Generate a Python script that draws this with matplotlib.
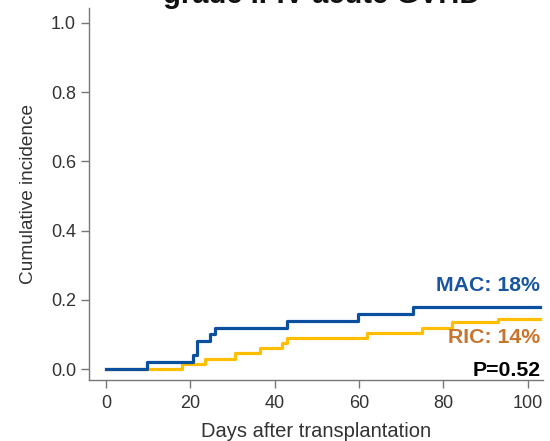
import matplotlib
matplotlib.use("Agg")
import matplotlib.pyplot as plt

plt.rcParams['font.family'] = ['Liberation Sans', 'DejaVu Sans']

# step times (days) and cumulative incidence
mac_days = [0, 9.7, 20.6, 21.6, 24.6, 25.8, 43, 59.7, 72.8, 103]
mac_ci = [0, 0.02, 0.04, 0.08, 0.10, 0.12, 0.14, 0.16, 0.18, 0.18]

ric_days = [0, 18, 23.5, 30.5, 36.5, 41.7, 43, 62, 75, 82, 93, 103]
ric_ci = [0, 0.015, 0.03, 0.045, 0.06, 0.075, 0.09, 0.105, 0.12, 0.135, 0.145, 0.145]

x_ticks = [0, 20, 40, 60, 80, 100]
y_ticks = [0.0, 0.2, 0.4, 0.6, 0.8, 1.0]

fig = plt.figure(figsize=(5.5, 4.41), dpi=100)
ax = fig.add_axes([0.162, 0.138, 0.825, 0.844])

ax.step(ric_days, ric_ci, where='post', color='#ffbf00', lw=2.3)
ax.step(mac_days, mac_ci, where='post', color='#0b4f9f', lw=2.3)

ax.set_xlim(-4, 103.6)
ax.set_ylim(-0.032, 1.043)
ax.set_xticks(x_ticks)
ax.set_yticks(y_ticks)
ax.set_yticklabels([f"{v:.1f}" for v in y_ticks])

for s in ['top', 'right']:
    ax.spines[s].set_visible(False)
for s in ['left', 'bottom']:
    ax.spines[s].set_color('#777777')
    ax.spines[s].set_linewidth(1.0)
ax.tick_params(colors='#777777', labelcolor='#333333', labelsize=13,
               length=6, width=1.0)
ax.tick_params(axis='x', pad=5)

ax.set_xlabel("Days after transplantation", fontsize=14.5, color='#333333', labelpad=7)
ax.set_ylabel("Cumulative incidence", fontsize=13.7, color='#333333', labelpad=10)

# labels at the right end
ax.text(103, 0.24, "MAC: 18%", color='#1a55a0', fontsize=15.3, fontweight='bold',
        ha='right', va='center')
ax.text(103, 0.09, "RIC: 14%", color='#c8762e', fontsize=15.3, fontweight='bold',
        ha='right', va='center')
ax.text(103, -0.003, "P=0.52", color='black', fontsize=15.3, fontweight='bold',
        ha='right', va='center')

# title, cut off at the top of the picture
fig.text(0.585, 0.994, "grade II-IV acute GVHD", fontsize=21, fontweight='bold',
         ha='center', va='baseline', color='#111111')

fig.savefig("out.png", dpi=100)
